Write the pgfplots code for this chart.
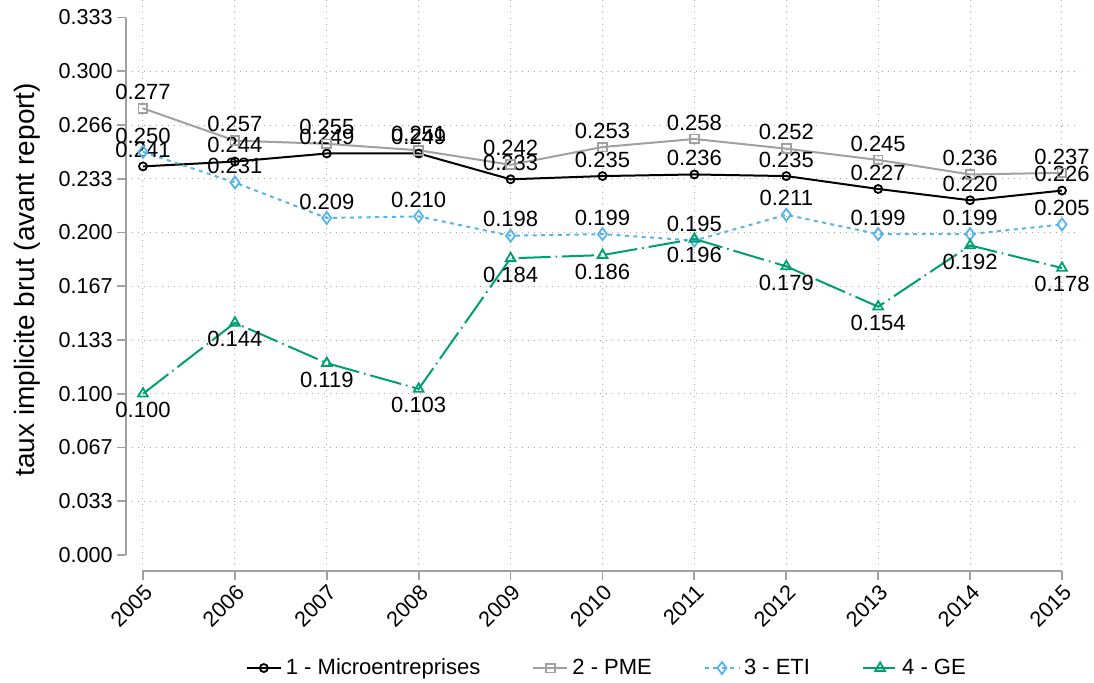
\documentclass[border=0pt]{standalone}
\usepackage{pgfplots}
\pgfplotsset{compat=1.18}
\usepackage{fontspec}
\setmainfont{Liberation Sans}
\definecolor{pmegray}{RGB}{160,160,160}
\definecolor{etiblue}{RGB}{86,180,233}
\definecolor{gegreen}{RGB}{0,158,115}
\definecolor{axgray}{RGB}{160,160,160}
\begin{document}
\begin{tikzpicture}
\path[use as bounding box] (-63pt,-56pt) rectangle (484pt,285.5pt);
\begin{axis}[
  scale only axis, width=477pt, height=285.5pt,
  xmin=2004.815, xmax=2015.196, ymin=-0.0099, ymax=0.3442,
  clip=false,
  axis line style={draw=none},
  xtick pos=bottom, ytick pos=left,
  tick align=outside, major tick length=4.5pt,
  tick style={axgray, line width=0.9pt},
  /pgf/number format/assume math mode=true,
  xtick={2005,2006,2007,2008,2009,2010,2011,2012,2013,2014,2015},
  xticklabels={2005,2006,2007,2008,2009,2010,2011,2012,2013,2014,2015},
  xticklabel style={rotate=45, anchor=north east, inner sep=1pt, font=\fontsize{10.8}{12}\selectfont},
  ytick={0,0.0333333,0.0666667,0.1,0.1333333,0.1666667,0.2,0.2333333,0.2666667,0.3,0.3333333},
  yticklabels={0.000,0.033,0.067,0.100,0.133,0.167,0.200,0.233,0.266,0.300,0.333},
  yticklabel style={inner sep=2pt, font=\fontsize{10.8}{12}\selectfont},
  xmajorgrids=true,
  extra y ticks={0.0333333,0.0666667,0.1,0.1333333,0.1666667,0.2,0.2333333,0.2666667,0.3},
  extra y tick labels={},
  extra y tick style={grid=major, major tick length=0pt},
  grid style={gray!70, line width=0.5pt, dash pattern=on 0.6pt off 2.4pt},
  ylabel={taux implicite brut (avant report)},
  ylabel style={at={(axis description cs:-0.1038,0.51)}, anchor=center, font=\fontsize{14}{16}\selectfont},
  legend columns=4,
  legend style={draw=none, at={(0.505,-0.17)}, anchor=center, font=\fontsize{11}{13}\selectfont,
    /tikz/every even column/.append style={column sep=24pt}},
  point meta=y,
  every node near coord/.style={black, anchor=center, font=\fontsize{11}{13}\selectfont},
]
\addplot[black, line width=1pt, mark=o, mark size=2pt, mark options={solid, line width=0.9pt},
  nodes near coords={\pgfmathprintnumber[fixed,fixed zerofill,precision=3]{\pgfplotspointmeta}},
  every node near coord/.append style={yshift=8.2pt}]
  coordinates {(2005,0.241) (2006,0.244) (2007,0.249) (2008,0.249) (2009,0.233) (2010,0.235) (2011,0.236) (2012,0.235) (2013,0.227) (2014,0.220) (2015,0.226)};
\addlegendentry{1 - Microentreprises}
\addplot[pmegray, line width=1pt, mark=square, mark size=2.2pt, mark options={solid, line width=0.9pt},
  nodes near coords={\pgfmathprintnumber[fixed,fixed zerofill,precision=3]{\pgfplotspointmeta}},
  every node near coord/.append style={yshift=8.2pt}]
  coordinates {(2005,0.277) (2006,0.257) (2007,0.255) (2008,0.251) (2009,0.242) (2010,0.253) (2011,0.258) (2012,0.252) (2013,0.245) (2014,0.236) (2015,0.237)};
\addlegendentry{2 - PME}
\addplot[etiblue, line width=1pt, dash pattern=on 2pt off 2.2pt, mark=diamond, mark size=3pt, mark options={solid, line width=0.9pt},
  nodes near coords={\pgfmathprintnumber[fixed,fixed zerofill,precision=3]{\pgfplotspointmeta}},
  every node near coord/.append style={yshift=8.2pt}]
  coordinates {(2005,0.250) (2006,0.231) (2007,0.209) (2008,0.210) (2009,0.198) (2010,0.199) (2011,0.195) (2012,0.211) (2013,0.199) (2014,0.199) (2015,0.205)};
\addlegendentry{3 - ETI}
\addplot[gegreen, line width=1pt, dash pattern=on 16pt off 2.5pt on 0.8pt off 2.5pt, mark=triangle, mark size=2.8pt, mark options={solid, line width=0.9pt},
  nodes near coords={\pgfmathprintnumber[fixed,fixed zerofill,precision=3]{\pgfplotspointmeta}},
  every node near coord/.append style={yshift=-8.2pt}]
  coordinates {(2005,0.100) (2006,0.144) (2007,0.119) (2008,0.103) (2009,0.184) (2010,0.186) (2011,0.196) (2012,0.179) (2013,0.154) (2014,0.192) (2015,0.178)};
\addlegendentry{4 - GE}
\draw[axgray, line width=0.9pt] (axis cs:2004.815,0) -- (axis cs:2004.815,0.3333333);
\draw[axgray, line width=0.9pt] (axis cs:2005,-0.0099) -- (axis cs:2015,-0.0099);
\end{axis}
\end{tikzpicture}
\end{document}
